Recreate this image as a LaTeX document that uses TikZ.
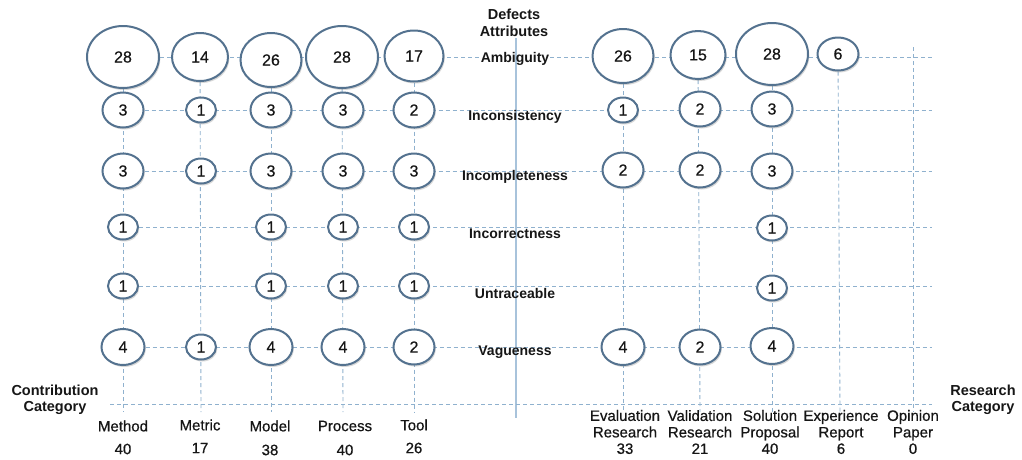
\documentclass[tikz,border=0pt]{standalone}
\usepackage{fontspec}
\setmainfont{Liberation Sans}
\newfontfamily\medfont[FakeBold=0.6]{Liberation Sans}
\usetikzlibrary{shapes.geometric,shadows}
\pgfdeclarelayer{paper}
\pgfdeclarelayer{grid}
\pgfsetlayers{paper,grid,main}
\definecolor{rim}{HTML}{54728F}
\definecolor{gridc}{HTML}{8FB1CE}
\definecolor{axisc}{HTML}{A8C3DB}
\definecolor{ink}{HTML}{161616}
\begin{document}
\begin{tikzpicture}[x=1pt,y=-1pt,
  bubble/.style={ellipse, draw=rim, line width=2pt, fill=white, inner sep=0pt,
    text=ink, font=\medfont\fontsize{16}{18}\selectfont,
    drop shadow={shadow xshift=1.3pt, shadow yshift=-2pt, opacity=0.3, fill=black!50}},
  sz1/.style={bubble, minimum width=30pt, minimum height=25pt},
  sz2/.style={bubble, minimum width=41pt, minimum height=35pt},
  sz3/.style={bubble, minimum width=41pt, minimum height=35pt},
  sz4/.style={bubble, minimum width=43pt, minimum height=36pt},
  sz6/.style={bubble, minimum width=41pt, minimum height=33pt},
  sz14/.style={bubble, minimum width=56pt, minimum height=48pt},
  sz15/.style={bubble, minimum width=55pt, minimum height=48pt},
  sz17/.style={bubble, minimum width=59pt, minimum height=51pt},
  sz26/.style={bubble, minimum width=61pt, minimum height=54pt},
  sz28/.style={bubble, minimum width=72pt, minimum height=62pt},
  gridline/.style={draw=gridc, line width=0.9pt, dash pattern=on 4pt off 3pt},
  axisline/.style={draw=axisc, line width=1.2pt},
  rowlabel/.style={text=ink, font=\bfseries\fontsize{14}{17}\selectfont, inner sep=1pt},
  catlabel/.style={text=ink, font=\medfont\fontsize{15}{16.5}\selectfont, align=center, inner sep=0pt},
  heading/.style={text=ink, font=\bfseries\fontsize{14.5}{16.5}\selectfont, align=center, inner sep=0pt}
]
\useasboundingbox (0,0) rectangle (1022,459);
\begin{pgfonlayer}{paper}
  \fill[white] (0,0) rectangle (1022,459);
\end{pgfonlayer}

% defect attribute labels on the central axis
\node[heading] (hd-defects) at (514,23) {Defects\\Attributes};
\node[rowlabel] (lab-a) at (515,59) {Ambiguity};
\node[rowlabel] (lab-b) at (515,117) {Inconsistency};
\node[rowlabel] (lab-c) at (515,177) {Incompleteness};
\node[rowlabel] (lab-d) at (515,234) {Incorrectness};
\node[rowlabel] (lab-e) at (515,293) {Untraceable};
\node[rowlabel] (lab-f) at (515,352) {Vagueness};

% Ambiguity
\node[sz28] (a1) at (123,57) {28};
\node[sz14] (a2) at (200,57) {14};
\node[sz26] (a3) at (271,60) {26};
\node[sz28] (a4) at (342,57) {28};
\node[sz17] (a5) at (414,56) {17};
\node[sz26] (a6) at (623,56) {26};
\node[sz15] (a7) at (698,55) {15};
\node[sz28] (a8) at (772,54) {28};
\node[sz6]  (a9) at (838,54) {6};
% Inconsistency
\node[sz3] (b1) at (123,110) {3};
\node[sz1] (b2) at (201,110) {1};
\node[sz3] (b3) at (271,110) {3};
\node[sz3] (b4) at (343,110) {3};
\node[sz2] (b5) at (414,110) {2};
\node[sz1] (b6) at (623,110) {1};
\node[sz2] (b7) at (700,109) {2};
\node[sz3] (b8) at (772,109) {3};
% Incompleteness
\node[sz3] (c1) at (123,171) {3};
\node[sz1] (c2) at (201,171) {1};
\node[sz3] (c3) at (271,171) {3};
\node[sz3] (c4) at (343,171) {3};
\node[sz3] (c5) at (414,171) {3};
\node[sz2] (c6) at (623,170) {2};
\node[sz2] (c7) at (700,170) {2};
\node[sz3] (c8) at (772,171) {3};
% Incorrectness
\node[sz1] (d1) at (123,227) {1};
\node[sz1] (d3) at (271,227) {1};
\node[sz1] (d4) at (343,227) {1};
\node[sz1] (d5) at (414,227) {1};
\node[sz1] (d8) at (772,228) {1};
% Untraceable
\node[sz1] (e1) at (123,286) {1};
\node[sz1] (e3) at (271,286) {1};
\node[sz1] (e4) at (343,286) {1};
\node[sz1] (e5) at (414,286) {1};
\node[sz1] (e8) at (772,288) {1};
% Vagueness
\node[sz4] (f1) at (123,347) {4};
\node[sz1] (f2) at (201,347) {1};
\node[sz4] (f3) at (271,347) {4};
\node[sz4] (f4) at (343,347) {4};
\node[sz2] (f5) at (414,347) {2};
\node[sz4] (f6) at (623,347) {4};
\node[sz2] (f7) at (700,347) {2};
\node[sz4] (f8) at (772,346) {4};

% axis titles
\node[heading] (hd-contrib) at (55,400) {Contribution\\Category};
\node[heading] (hd-research) at (983,400) {Research\\Category};

% contribution categories
\node[catlabel] (k1) at (123,426) {Method};
\node[catlabel] (k2) at (200,425) {Metric};
\node[catlabel] (k3) at (270,426) {Model};
\node[catlabel] (k4) at (345,426) {Process};
\node[catlabel] (k5) at (414,425) {Tool};
\node[catlabel] (n1) at (123,449) {40};
\node[catlabel] (n2) at (200,448) {17};
\node[catlabel] (n3) at (270,450) {38};
\node[catlabel] (n4) at (345,450) {40};
\node[catlabel] (n5) at (414,448) {26};
% research categories
\node[catlabel] (k6) at (625,432) {Evaluation\\Research\\33};
\node[catlabel] (k7) at (700,432) {Validation\\Research\\21};
\node[catlabel] (k8) at (770,432) {Solution\\Proposal\\40};
\node[catlabel] (k9) at (841,432) {Experience\\Report\\6};
\node[catlabel] (k10) at (913,432) {Opinion\\Paper\\0};

% free ends of the grid lines
\coordinate (ea) at (932,57);
\coordinate (eb) at (932,110);
\coordinate (ec) at (932,171);
\coordinate (ed) at (932,227);
\coordinate (ee) at (932,286);
\coordinate (ef) at (932,347);
\coordinate (gl) at (110,404);
\coordinate (gr) at (932,404);
\coordinate (v1) at (123,412);
\coordinate (v2) at (201,412);
\coordinate (v3) at (271,412);
\coordinate (v4) at (343,412);
\coordinate (v5) at (414,412);
\coordinate (v6) at (623,412);
\coordinate (v7) at (700,412);
\coordinate (v8) at (772,412);
\coordinate (v9) at (840,412);
\coordinate (v10) at (913,412);
\coordinate (t10) at (913,47);
\coordinate (axt) at (516,38);
\coordinate (axb) at (516,418);

\begin{pgfonlayer}{grid}
  \draw[axisline] (axt) -- (axb);
  % rows
  \draw[gridline] (a1) -- (a1 -| lab-a.west);
  \draw[gridline] (lab-a.east |- a1) -- (ea);
  \draw[gridline] (b1) -- (eb);
  \draw[gridline] (c1) -- (ec);
  \draw[gridline] (d1) -- (ed);
  \draw[gridline] (e1) -- (ee);
  \draw[gridline] (f1) -- (ef);
  \draw[gridline] (gl) -- (gr);
  % columns
  \draw[gridline] (a1) -- (v1);
  \draw[gridline] (a2) -- (v2);
  \draw[gridline] (a3) -- (v3);
  \draw[gridline] (a4) -- (v4);
  \draw[gridline] (a5) -- (v5);
  \draw[gridline] (a6) -- (v6);
  \draw[gridline] (a7) -- (v7);
  \draw[gridline] (a8) -- (v8);
  \draw[gridline] (a9) -- (v9);
  \draw[gridline] (t10) -- (v10);
\end{pgfonlayer}
\end{tikzpicture}
\end{document}
